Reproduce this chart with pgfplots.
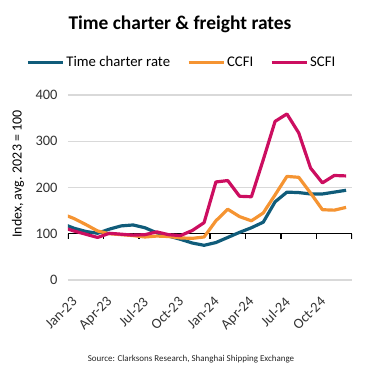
\documentclass[border=0pt]{standalone}
\usepackage{pgfplots}
\pgfplotsset{compat=1.18}
\usepackage{fontspec}
\setmainfont{Carlito}
\definecolor{tcblue}{RGB}{16,92,122}
\definecolor{ccfiorange}{RGB}{245,148,50}
\definecolor{scfipink}{RGB}{204,14,96}
\definecolor{gridgray}{RGB}{217,217,217}
\begin{document}
\begin{tikzpicture}
\useasboundingbox (-68bp,-88bp) rectangle (301bp,280bp);
\begin{axis}[
  at={(0,0)}, anchor=south west,
  scale only axis, width=284bp, height=185bp,
  xmin=0, xmax=24, ymin=0, ymax=400,
  axis line style={draw=none},
  major tick length=0pt,
  ytick={0,100,200,300,400},
  ymajorgrids, grid style={gridgray, line width=1.2bp},
  xtick={0,3,6,9,12,15,18,21,24},
  xticklabels={Jan-23,Apr-23,Jul-23,Oct-23,Jan-24,Apr-24,Jul-24,Oct-24,{}},
  xticklabel style={xshift=9bp, yshift=-17bp, rotate=45, anchor=east},
  yticklabel style={xshift=-7bp},
  /pgf/number format/assume math mode=true,
  tick label style={font=\fontsize{14.5}{16}\selectfont, text=black!80},
  ylabel={Index, avg. 2023 = 100},
  ylabel style={at={(axis description cs:-0.176,0.573)}, anchor=center, font=\fontsize{14}{16}\selectfont},
  legend style={at={(axis description cs:0.401,1.178)}, anchor=center, draw=none, fill=none,
    legend columns=3, font=\fontsize{14.8}{16}\selectfont,
    /tikz/every even column/.append style={column sep=15bp},
    legend cell align=left, inner sep=0pt},
  legend image code/.code={\draw[#1, line width=3pt] (0bp,0bp) -- (35bp,0bp);},
  every axis plot/.append style={line width=3.2pt, line join=round, no markers},
]
\draw[gridgray, line width=1.2bp] (axis cs:0,0) -- (axis cs:24,0);
\draw[black, line width=1.2bp] (axis cs:0,100) -- (axis cs:24,100);
\pgfplotsinvokeforeach{0,3,6,9,12,15,18,21,24}{
  \draw[black, line width=1.2bp] (axis cs:#1,100) -- ([yshift=-5bp]axis cs:#1,100);
}
\addplot[tcblue] coordinates {
(-0.5,122) (0.5,112) (1.5,105) (2.5,101) (3.5,110) (4.5,117) (5.5,119) (6.5,113)
(7.5,102) (8.5,95) (9.5,88) (10.5,80) (11.5,75) (12.5,81) (13.5,92) (14.5,103)
(15.5,113) (16.5,125) (17.5,169) (18.5,190) (19.5,189) (20.5,186) (21.5,186)
(22.5,190) (23.5,194)};
\addlegendentry{Time charter rate}
\addplot[ccfiorange] coordinates {
(-0.5,143) (0.5,133) (1.5,120) (2.5,106) (3.5,100) (4.5,98) (5.5,96) (6.5,93)
(7.5,95) (8.5,94) (9.5,91) (10.5,90) (11.5,93) (12.5,128) (13.5,153) (14.5,137)
(15.5,128) (16.5,145) (17.5,184) (18.5,224) (19.5,222) (20.5,188) (21.5,152)
(22.5,151) (23.5,157)};
\addlegendentry{CCFI}
\addplot[scfipink] coordinates {
(-0.5,114) (0.5,106) (1.5,99) (2.5,92) (3.5,101) (4.5,99) (5.5,97) (6.5,98)
(7.5,104) (8.5,98) (9.5,96) (10.5,107) (11.5,124) (12.5,212) (13.5,215) (14.5,181)
(15.5,180) (16.5,260) (17.5,343) (18.5,359) (19.5,318) (20.5,242) (21.5,210)
(22.5,226) (23.5,225)};
\addlegendentry{SCFI}
\end{axis}
\node[font=\bfseries\fontsize{19.5}{21}\selectfont] at (112bp,256bp) {Time charter \& freight rates};
\node[font=\fontsize{9}{10}\selectfont, text=black!85] at (123bp,-79bp) {Source: Clarksons Research, Shanghai Shipping Exchange};
\end{tikzpicture}
\end{document}
